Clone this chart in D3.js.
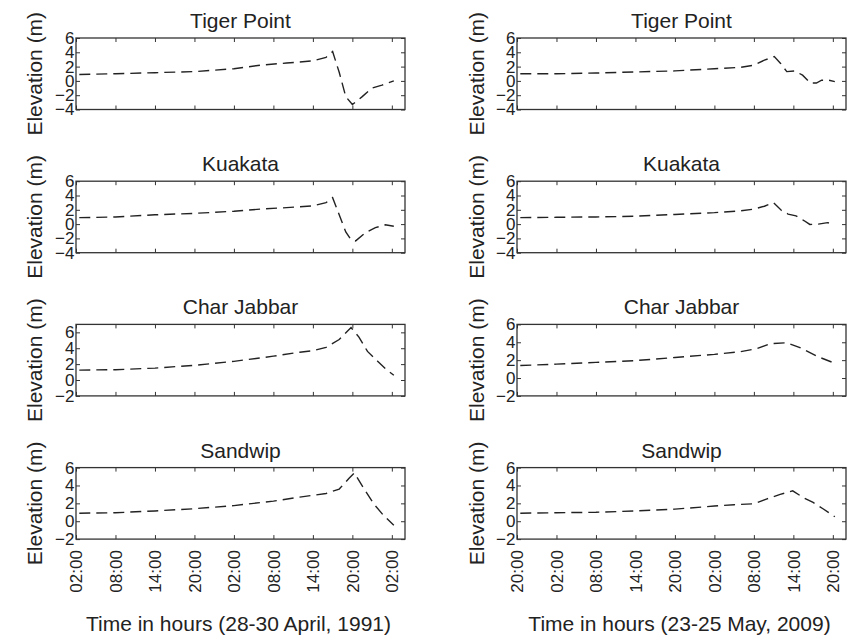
<!DOCTYPE html>
<html>
<head>
<meta charset="utf-8">
<script src="https://cdn.jsdelivr.net/npm/d3@7"></script>
<style>
  html, body { margin: 0; padding: 0; background: #fff; }
  svg { display: block; }
  text { font-family: "Liberation Sans", Arial, sans-serif; fill: #222; }
</style>
</head>
<body>
<svg id="chart" width="849" height="640"></svg>
<script>
// ---------------- data ----------------
const stations = ["Tiger Point", "Kuakata", "Char Jabbar", "Sandwip"];
const xTitles = ["Time in hours (28-30 April, 1991)", "Time in hours (23-25 May, 2009)"];
const tickHours = [0, 6, 12, 18, 24, 30, 36, 42, 48];
const tickLabels1991 = ["02:00", "08:00", "14:00", "20:00", "02:00", "08:00", "14:00", "20:00", "02:00"];
const tickLabels2009 = ["20:00", "02:00", "08:00", "14:00", "20:00", "02:00", "08:00", "14:00", "20:00"];
const yDomains1991 = [[-4, 6], [-4, 6], [-2, 7], [-2, 6]];
const yDomains2009 = [[-4, 6], [-4, 6], [-2, 6], [-2, 6]];

// 1991 (hours since 02:00, 28 April)
const h1991Tiger = [0.5, 6, 12, 18, 24, 28, 32, 36, 38, 39, 40, 41, 42, 43.5, 45, 46.5, 48.3];
const e1991Tiger = [0.9, 1.0, 1.15, 1.3, 1.7, 2.2, 2.5, 2.8, 3.3, 4.1, 1.2, -2.2, -3.3, -2.2, -1.0, -0.6, 0.0];
const h1991Kuakata = [0.5, 6, 12, 18, 24, 28, 32, 36, 38, 39, 40, 41, 41.8, 42.5, 44, 45.5, 47, 48.3];
const e1991Kuakata = [0.9, 1.0, 1.3, 1.5, 1.8, 2.1, 2.3, 2.55, 3.0, 3.7, 1.3, -1.1, -2.2, -2.35, -1.2, -0.5, -0.1, -0.3];
const h1991CharJabbar = [0.5, 6, 12, 18, 24, 30, 34, 36, 38, 40, 41.8, 43, 44.3, 45.8, 47.2, 48.3];
const e1991CharJabbar = [1.25, 1.3, 1.5, 1.85, 2.35, 3.0, 3.5, 3.7, 4.1, 5.1, 6.6, 5.4, 3.6, 2.4, 1.3, 0.6];
const h1991Sandwip = [0.5, 6, 12, 18, 24, 30, 34, 36, 38, 40, 41.5, 42.3, 43.8, 45.3, 46.8, 48.3];
const e1991Sandwip = [0.9, 0.95, 1.15, 1.4, 1.75, 2.25, 2.7, 2.9, 3.1, 3.6, 4.8, 5.4, 3.6, 1.9, 0.6, -0.45];

// 2009 (hours since 20:00, 23 May)
const h2009Tiger = [0.5, 6, 12, 18, 24, 30, 34, 36, 37.6, 39.1, 40.1, 41, 42.2, 43.4, 44.6, 45.5, 46.3, 47.4, 48.3];
const e2009Tiger = [1.0, 1.0, 1.1, 1.25, 1.4, 1.7, 1.9, 2.2, 2.9, 3.4, 2.4, 1.3, 1.4, 0.8, -0.3, -0.3, 0.1, 0.1, -0.1];
const h2009Kuakata = [0.5, 6, 12, 18, 24, 30, 34, 36, 37.6, 39, 40.2, 41.2, 42.4, 43.6, 44.5, 45.8, 47.2, 48.3];
const e2009Kuakata = [0.9, 0.95, 1.0, 1.1, 1.35, 1.6, 1.85, 2.1, 2.5, 3.0, 1.9, 1.4, 1.15, 0.5, -0.05, 0.0, 0.2, -0.05];
const h2009CharJabbar = [0.5, 6, 12, 18, 24, 30, 34, 36.5, 38.5, 41, 43, 45.7, 48.3];
const e2009CharJabbar = [1.4, 1.55, 1.75, 1.95, 2.3, 2.65, 2.95, 3.3, 3.85, 3.95, 3.4, 2.4, 1.65];
const h2009Sandwip = [0.5, 6, 12, 18, 24, 30, 33, 36, 38, 40, 41.9, 43.6, 45, 46.5, 48.3];
const e2009Sandwip = [0.9, 0.95, 1.0, 1.15, 1.35, 1.7, 1.85, 1.95, 2.5, 3.0, 3.4, 2.6, 2.1, 1.4, 0.5];

const columns = [
  { hours: [h1991Tiger, h1991Kuakata, h1991CharJabbar, h1991Sandwip],
    elev: [e1991Tiger, e1991Kuakata, e1991CharJabbar, e1991Sandwip],
    domains: yDomains1991, tickLabels: tickLabels1991, xTitle: xTitles[0] },
  { hours: [h2009Tiger, h2009Kuakata, h2009CharJabbar, h2009Sandwip],
    elev: [e2009Tiger, e2009Kuakata, e2009CharJabbar, e2009Sandwip],
    domains: yDomains2009, tickLabels: tickLabels2009, xTitle: xTitles[1] }
];

// ---------------- layout ----------------
const svg = d3.select("#chart");
const colX = [76, 517];
const boxW = 329;
const rowTop0 = 38, rowStep = 143.2, boxH = 71.5;
const axisCol = "#333";

columns.forEach((col, ci) => {
  const x0 = colX[ci];
  const x = d3.scaleLinear().domain([0, 50]).range([x0, x0 + boxW]);

  stations.forEach((name, ri) => {
    const top = rowTop0 + ri * rowStep;
    const bottom = top + boxH;
    const dom = col.domains[ri];
    const y = d3.scaleLinear().domain(dom).range([bottom, top]);
    const yTicks = d3.range(dom[0], 6.001, 2);
    const g = svg.append("g");

    // title
    g.append("text")
      .attr("x", x0 + boxW / 2).attr("y", top - 10)
      .attr("text-anchor", "middle")
      .attr("font-size", 21)
      .text(name);

    // y axis title
    const yLabX = ci === 0 ? 42 : 484;
    g.append("text")
      .attr("transform", `translate(${yLabX},${(top + bottom) / 2}) rotate(-90)`)
      .attr("text-anchor", "middle")
      .attr("font-size", 21)
      .text("Elevation (m)");

    // axes (MATLAB-like inward ticks on all four sides)
    const isBottom = ri === stations.length - 1;
    const axB = g.append("g").attr("transform", `translate(0,${bottom})`)
      .call(d3.axisBottom(x).tickValues(tickHours).tickSize(-4).tickPadding(11)
        .tickFormat((d, i) => isBottom ? col.tickLabels[i] : ""));
    const axT = g.append("g").attr("transform", `translate(0,${top})`)
      .call(d3.axisTop(x).tickValues(tickHours).tickSize(-4).tickFormat(""));
    const axL = g.append("g").attr("transform", `translate(${x0},0)`)
      .call(d3.axisLeft(y).tickValues(yTicks).tickSize(-4).tickPadding(1.5)
        .tickFormat(d3.format("d")));
    const axR = g.append("g").attr("transform", `translate(${x0 + boxW},0)`)
      .call(d3.axisRight(y).tickValues(yTicks).tickSize(-4).tickFormat(""));

    [axB, axT, axL, axR].forEach(a => {
      a.select(".domain").remove();
      a.selectAll("line").attr("stroke", axisCol).attr("stroke-width", 1);
      a.selectAll("text").attr("fill", "#222").attr("font-family", "Liberation Sans, Arial, sans-serif");
    });
    axL.selectAll("text").attr("font-size", 17);
    if (isBottom) {
      axB.selectAll("text")
        .attr("font-size", 17)
        .attr("transform", "rotate(-90)")
        .attr("text-anchor", "end")
        .attr("x", -11).attr("y", 0).attr("dy", "0.35em");
    }

    // frame
    g.append("rect")
      .attr("x", x0).attr("y", top).attr("width", boxW).attr("height", boxH)
      .attr("fill", "none").attr("stroke", axisCol).attr("stroke-width", 1.3);

    // data line
    const pts = col.hours[ri].map((h, k) => [h, col.elev[ri][k]]);
    g.append("path")
      .datum(pts)
      .attr("fill", "none")
      .attr("stroke", "#222")
      .attr("stroke-width", 1.4)
      .attr("stroke-dasharray", "11,6")
      .attr("d", d3.line().x(d => x(d[0])).y(d => y(d[1])));
  });

  // x axis title
  svg.append("text")
    .attr("x", x0 + boxW / 2 - 2).attr("y", 631)
    .attr("text-anchor", "middle")
    .attr("font-size", 21)
    .text(col.xTitle);
});
</script>
</body>
</html>
